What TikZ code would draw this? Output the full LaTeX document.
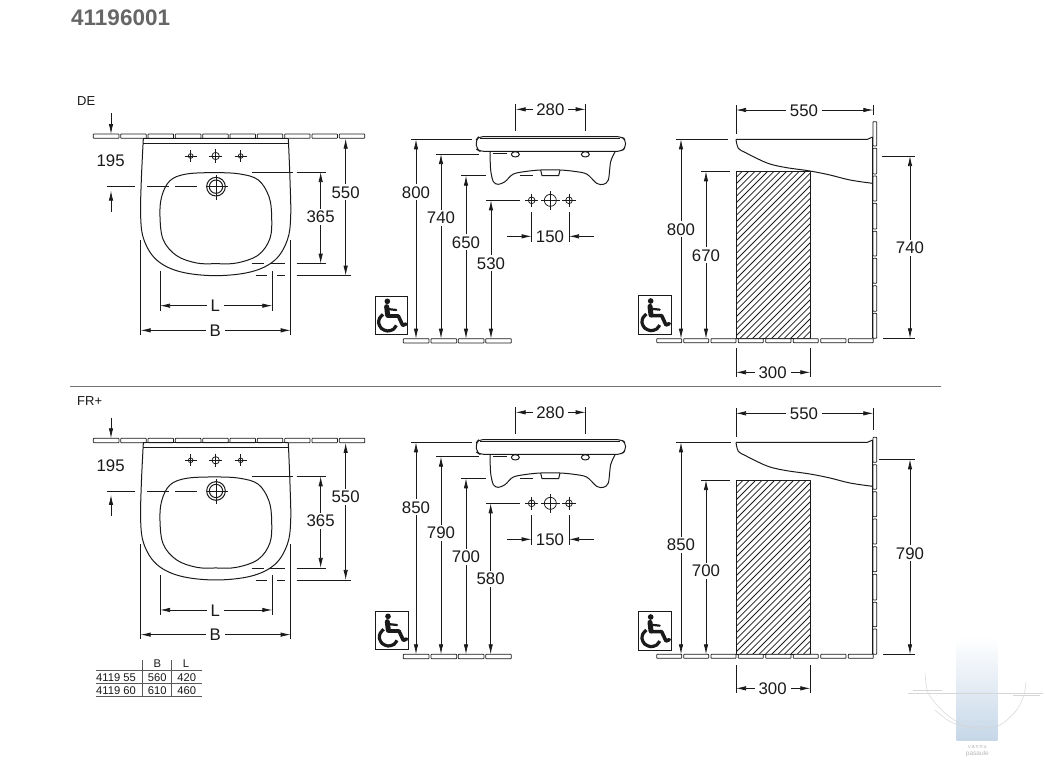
\documentclass[tikz,border=0pt]{standalone}
\usepackage{fontspec}
\setmainfont{Liberation Sans}
\usetikzlibrary{arrows.meta}
\definecolor{ink}{HTML}{1A1A1A}
\definecolor{wm}{HTML}{C6D7E8}
\tikzset{
  x=1pt,y=-1pt,
  part/.style={draw=ink,line width=1pt,line join=round},
  thin part/.style={draw=ink,line width=0.75pt},
  dim/.style={draw=ink,line width=0.75pt},
  arr/.style={dim,-{Latex[length=10pt,width=4.4pt]}},
  arrs/.style={dim,{Latex[length=10pt,width=4.4pt]}-{Latex[length=10pt,width=4.4pt]}},
  tile/.style={draw=ink,line width=0.75pt,fill=white,rounded corners=0.6pt},
  lbl/.style={font=\fontsize{16.8}{18}\selectfont,text=ink,fill=white,inner xsep=4pt,inner ysep=2pt},
  small/.style={font=\fontsize{11.2}{12}\selectfont,text=ink,inner sep=0pt},
  wmline/.style={draw=black!16,line width=0.5pt},
}
% #1 x #2 y1 #3 y2 #4 text y #5 text #6 name
\newcommand\dimV[6]{\draw[arrs] (#1,#2)--(#1,#3); \node[lbl] (#6) at (#1,#4) {#5};}
\newcommand\crosshole[4]{% x y r arm
  \draw[thin part] (#1,#2) circle[radius=#3];
  \draw[thin part] ({#1-#4},#2)--({#1+#4},#2) ({#1},{#2-#4})--({#1},{#2+#4});
}
\newcommand\wheelchair[2]{% top-left of box, zoom units
  \begin{scope}[shift={(#1,#2)}]
    \draw[line width=0.9pt,draw=ink] (0,0) rectangle (98,115);
    \fill[ink] (37,16) circle[radius=8.5];
    \draw[ink,line width=5pt,line cap=round] (35,32)--(38,58);
    \draw[ink,line width=2.2pt,line cap=round] (37,39)--(64,42);
    \draw[ink,line width=3.6pt,line join=round,line cap=round] (38,60)--(70,60)--(83,88)--(93,84);
    \draw[ink,line width=3.2pt] plot[smooth] coordinates {(24,55)(14,66)(11,81)(19,97)(37,105)(55,100)(64,88)};
  \end{scope}
}
\newcommand\frontview[1]{
\begin{scope}[shift={(70,#1)},scale=1/3]
  \foreach \i in {0,...,9}{\draw[tile] ({70+82*\i},132) rectangle ({147+81.9*\i},145);}
  \draw[part] (220,146)--(655,146) (220,161)--(655,161);
  \draw[part] plot[smooth,tension=.6] coordinates {(220,146)(214,270)(212,380)(222,450)(260,510)(330,545)(437,557)(545,545)(615,510)(652,450)(662,380)(660,270)(655,146)};
  \draw[part] plot[smooth cycle,tension=.6] coordinates {(437,248)(350,252)(300,272)(275,320)(270,380)(280,450)(320,497)(380,519)(437,521)(500,519)(565,495)(600,445)(605,380)(597,320)(565,270)(510,252)};
  \fill[white] (438,290) circle[radius=28];
  \draw[part] (438,290) circle[radius=28] (438,290) circle[radius=20];
  \draw[thin part] (438,255)--(438,330) (412,290)--(475,290);
  \crosshole{437}{198}{11}{20}
  \crosshole{362}{198}{7}{18}
  \crosshole{512}{198}{7}{18}
  \draw[arr] (123,70)--(123,132);
  \draw[arr] (123,365)--(123,302);
  \draw[dim] (110,290)--(195,290) (232,290)--(298,290) (315,290)--(380,290);
  \draw[dim] (547,246)--(668,246) (680,246)--(768,246);
  \draw[dim] (545,521)--(582,521) (600,521)--(645,521) (680,521)--(768,521);
  \draw[dim] (557,557)--(590,557) (622,557)--(645,557) (680,557)--(842,557);
  \dimV{752}{246}{521}{380}{365}{d365}
  \dimV{827}{146}{557}{307}{550}{d550}
  \node[lbl,fill=none] (d195) at (122,213) {195};
  \draw[dim] (270,543)--(270,662) (607,543)--(607,662);
  \draw[arrs] (270,647)--(607,647);
  \node[lbl] (dL) at (436,648) {L};
  \draw[dim] (212,450)--(212,735) (662,450)--(662,735);
  \draw[arrs] (212,721)--(662,721);
  \node[lbl] (dB) at (436,721) {B};
\end{scope}}
\newcommand\midupper[1]{
\begin{scope}[shift={(370,#1)},scale=1/3]
  \draw[dim] (437,42)--(437,122) (647,42)--(647,122);
  \draw[arr] (490,58)--(437,58);
  \draw[arr] (595,58)--(647,58);
  \node[lbl,fill=none] (w280) at (541,60) {280};
  \draw[part,rounded corners=4pt] (330,184)--(320,178)--(318,150)--(326,140)--(755,140)--(767,150)--(767,172)--(755,184)--cycle;
  \draw[thin part] (330,146)--(750,146);
  \draw[part] plot[smooth,tension=.5] coordinates {(360,186)(362,240)(370,275)(385,283)(405,275)(430,252)(470,244)(512,240)(570,240)(612,244)(650,252)(680,280)(700,283)(715,270)(722,215)(735,186)};
  \draw[part] (512,240)--(516,257)--(566,257)--(570,240);
  \draw[dim] (370,190)--(410,190) (450,257)--(490,257);
  \draw[part] (436,193) ellipse[x radius=12,y radius=8];
  \draw[part] (646,193) ellipse[x radius=12,y radius=8];
  \crosshole{485}{331}{10}{20}
  \crosshole{541}{331}{18}{28}
  \crosshole{597}{331}{10}{20}
  \draw[dim] (485,367)--(485,455) (597,367)--(597,455);
  \draw[arr] (410,439)--(485,439);
  \draw[arr] (672,439)--(597,439);
  \node[lbl,fill=none] (w150) at (540,440) {150};
\end{scope}}
\newcommand\floormid[1]{
  \draw[tile] (100,#1) rectangle (177,{#1+13});
  \draw[tile] (183,#1) rectangle (260,{#1+13});
  \draw[tile] (265,#1) rectangle (342,{#1+13});
  \draw[tile] (347,#1) rectangle (424,{#1+13});
}
\newcommand\floorside[1]{
  \foreach \a/\b in {80/155,161/236,243/318,325/400,407/483,490/565,572/648,655/730}{
    \draw[tile] (\a,#1) rectangle (\b,{#1+12});}
}
\newcommand\hatch[2]{% top, bottom
  \begin{scope}
    \clip (318,#1) rectangle (541,#2);
    \foreach \k in {0,...,40}{
      \draw[ink,line width=0.8pt] ({318+19*\k-520},#2)--({318+19*\k},{#2-520});}
  \end{scope}
  \draw[part] (318,#1) rectangle (541,#2);
}
\newcommand\sidebasin[1]{
  \draw[part] (318,#1)--(712,#1)--(728,{#1-7});
  \draw[part] plot[smooth,tension=.6] coordinates {(318,#1)(325,{#1+27})(345,{#1+39})(380,{#1+57})(420,{#1+74})(470,{#1+85})(540,{#1+95})(600,{#1+107})(660,{#1+122})(728,{#1+132})};
}
\begin{document}
\begin{tikzpicture}
\useasboundingbox (0,0) rectangle (1045,764);
\fill[white] (0,0) rectangle (1045,764);

% watermark
\begin{scope}[shift={(900,630)},scale=1/3]
  \shade[top color=white,bottom color=wm,draw=none] (170,20) rectangle (292,330);
  \draw[wmline] (25,190)--(430,190);
  \draw[wmline] (40,180)--(125,180) (340,195)--(420,195);
  \draw[wmline] plot[smooth] coordinates {(75,130)(85,190)(130,245)(180,280)(235,295)(300,285)(350,240)(372,195)(378,155)};
  \draw[wmline] plot[smooth] coordinates {(105,240)(150,275)(200,290)(260,290)};
  \node[font=\fontsize{5.5}{6}\selectfont,text=black!28,inner sep=0pt] (wm1) at (232,350) {v\,a\,n\,n\,u};
  \node[font=\fontsize{6.5}{6}\selectfont,text=black!28,inner sep=0pt] (wm2) at (232,372) {pasaule};
\end{scope}

\node[font=\fontsize{22.5}{24}\bfseries\selectfont,text=black!60,inner sep=0pt,anchor=west] (title) at (71,18) {41196001};
\node[font=\fontsize{13}{14}\selectfont,text=ink,inner sep=0pt,anchor=west] (de) at (77,101) {DE};
\node[font=\fontsize{13}{14}\selectfont,text=ink,inner sep=0pt,anchor=west] (fr) at (77,401) {FR+};
\draw[draw=black!55,line width=0.9pt] (70,386)--(941,386);

% front views
\begin{scope}[name prefix=a-]\frontview{90}\end{scope}
\begin{scope}[name prefix=b-]\frontview{394.3}\end{scope}

% middle views
\begin{scope}[name prefix=a-]\midupper{90}\end{scope}
\begin{scope}[name prefix=b-]\midupper{393}\end{scope}
\begin{scope}[shift={(370,90)},scale=1/3,name prefix=a-]
  \floormid{746}
  \draw[dim] (123,148)--(305,148) (198,192)--(328,192) (273,257)--(348,257) (348,331)--(450,331);
  \dimV{138}{148}{746}{307}{800}{m800}
  \dimV{213}{192}{746}{383}{740}{m740}
  \dimV{288}{257}{746}{457}{650}{m650}
  \dimV{363}{331}{746}{520}{530}{m530}
  \wheelchair{15}{618}
\end{scope}
\begin{scope}[shift={(370,400)},scale=1/3,name prefix=b-]
  \floormid{763}
  \draw[dim] (123,127)--(305,127) (198,170)--(328,170) (273,235)--(348,235) (348,310)--(450,310);
  \dimV{138}{127}{763}{322}{850}{m850}
  \dimV{213}{170}{763}{398}{790}{m790}
  \dimV{288}{235}{763}{471}{700}{m700}
  \dimV{362}{310}{763}{536}{580}{m580}
  \wheelchair{17}{633}
\end{scope}

% side views
\begin{scope}[shift={(630,90)},scale=1/3,name prefix=a-]
  \foreach \a/\b in {95/168,175/252,258/333,340/417,424/498,505/580,587/664,670/745}{
    \draw[tile] (729,\a) rectangle (740,\b);}
  \draw[part] (728,141)--(728,745);
  \hatch{244}{745}
  \floorside{746}
  \sidebasin{148}
  \draw[dim] (318,45)--(318,132) (730,45)--(730,75);
  \draw[arrs] (318,60)--(730,60);
  \node[lbl] (s550) at (522,62) {550};
  \draw[dim] (138,148)--(293,148) (213,244)--(300,244) (755,198)--(855,198) (760,745)--(855,745);
  \dimV{153}{148}{746}{418}{800}{s800}
  \dimV{228}{244}{746}{496}{670}{s670}
  \dimV{840}{198}{745}{473}{740}{s740}
  \draw[dim] (318,775)--(318,862) (541,775)--(541,862);
  \draw[arrs] (318,847)--(541,847);
  \node[lbl] (s300) at (428,847) {300};
  \wheelchair{25}{617}
\end{scope}
\begin{scope}[shift={(630,400)},scale=1/3,name prefix=b-]
  \foreach \a/\b in {112/187,194/268,275/350,357/432,440/515,523/600,607/680,687/763}{
    \draw[tile] (729,\a) rectangle (740,\b);}
  \draw[part] (728,120)--(728,763);
  \hatch{240}{763}
  \floorside{763}
  \sidebasin{127}
  \draw[dim] (318,25)--(318,112) (730,25)--(730,90);
  \draw[arrs] (318,40)--(730,40);
  \node[lbl] (s550) at (522,40) {550};
  \draw[dim] (138,127)--(303,127) (213,240)--(300,240) (747,178)--(855,178) (760,763)--(855,763);
  \dimV{153}{127}{763}{435}{850}{s850}
  \dimV{228}{240}{763}{513}{700}{s700}
  \dimV{840}{178}{763}{460}{790}{s790}
  \draw[dim] (318,795)--(318,880) (541,795)--(541,880);
  \draw[arrs] (318,865)--(541,865);
  \node[lbl] (s300) at (428,867) {300};
  \wheelchair{25}{635}
\end{scope}

% table
\begin{scope}[shift={(80,640)},scale=1/3]
  \draw[draw=black!65,line width=0.9pt] (47,90)--(365,90) (47,130)--(365,130) (47,168)--(365,168) (188,60)--(188,168) (275,60)--(275,168);
  \node[small] (th) at (232,72) {B};
  \node[small] (tl) at (318,72) {L};
  \node[small] (r1) at (108,112) {4119 55};
  \node[small] (r1b) at (232,112) {560};
  \node[small] (r1l) at (320,112) {420};
  \node[small] (r2) at (108,152) {4119 60};
  \node[small] (r2b) at (232,152) {610};
  \node[small] (r2l) at (320,152) {460};
\end{scope}
\end{tikzpicture}
\end{document}
